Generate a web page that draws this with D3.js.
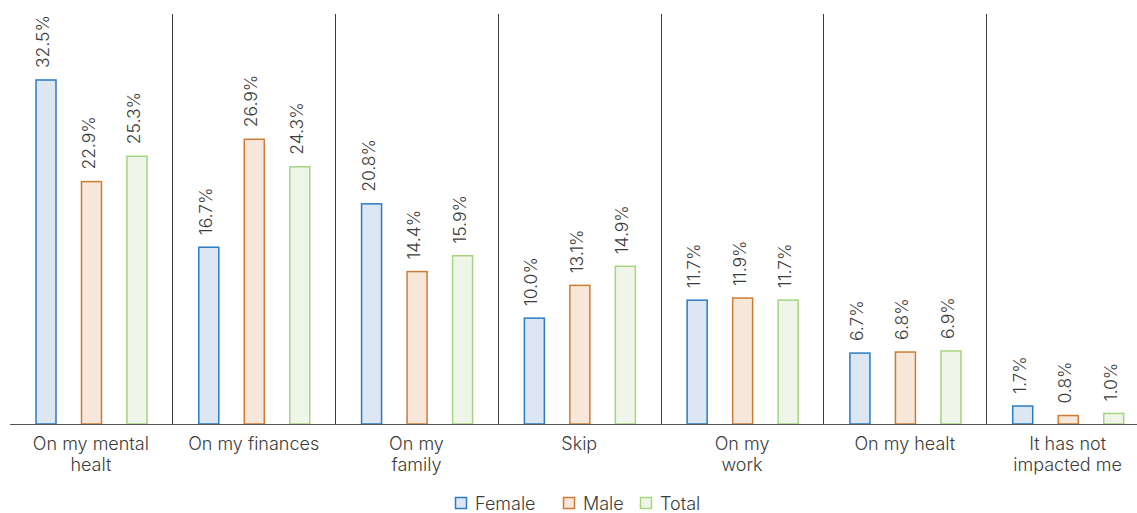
<!DOCTYPE html>
<html>
<head>
<meta charset="utf-8">
<script src="https://cdn.jsdelivr.net/npm/d3@7"></script>
<style>
  html, body { margin: 0; padding: 0; background: #fff; }
  svg { display: block; font-family: Inter, "Noto Sans", sans-serif; font-weight: 300; }
</style>
</head>
<body>
<svg id="chart" width="1137" height="513"></svg>
<script>
// Impact categories (wrapped label lines)
const categories = [
  ["On my mental", "healt"],
  ["On my finances"],
  ["On my", "family"],
  ["Skip"],
  ["On my", "work"],
  ["On my healt"],
  ["It has not", "impacted me"]
];
const seriesNames = ["Female", "Male", "Total"];
const female = [32.5, 16.7, 20.8, 10.0, 11.7, 6.7, 1.7];
const male   = [22.9, 26.9, 14.4, 13.1, 11.9, 6.8, 0.8];
const total  = [25.3, 24.3, 15.9, 14.9, 11.7, 6.9, 1.0];

const seriesValues = [female, male, total];
const fills   = ["#dde6f3", "#f6e7da", "#eff6e9"];
const strokes = ["#2a7cc4", "#cd7d33", "#a5d57f"];

const svg = d3.select("#chart");
const baseY = 424;
const topY = 80;

const keys = categories.map((c, i) => i);
const x0 = d3.scaleBand().domain(keys).range([9.5, 1149]).paddingInner(0).paddingOuter(0);
const x1 = d3.scaleBand().domain(seriesNames).range([26, 138]).paddingInner(0.5385).paddingOuter(0);
const y = d3.scaleLinear().domain([0, 32.5]).range([baseY, topY]);

// Group separators
svg.append("g").selectAll("line")
  .data(keys.slice(1))
  .join("line")
  .attr("x1", d => Math.round(x0(d)) + 0.5)
  .attr("x2", d => Math.round(x0(d)) + 0.5)
  .attr("y1", 14)
  .attr("y2", baseY)
  .attr("stroke", "#3a3a3a")
  .attr("stroke-width", 1);

// Bars and value labels
const groups = svg.append("g").selectAll("g")
  .data(keys)
  .join("g")
  .attr("transform", d => `translate(${x0(d)},0)`);

const cells = groups.selectAll("g")
  .data(i => seriesNames.map((s, k) => ({ s, k, v: seriesValues[k][i] })))
  .join("g");

cells.append("rect")
  .attr("x", d => x1(d.s) + 0.5)
  .attr("y", d => y(d.v))
  .attr("width", x1.bandwidth() - 1)
  .attr("height", d => baseY - y(d.v))
  .attr("fill", d => fills[d.k])
  .attr("stroke", d => strokes[d.k])
  .attr("stroke-width", 1.5);

cells.append("text")
  .attr("transform", d => `translate(${x1(d.s) + x1.bandwidth() / 2 + 3},${y(d.v) - 12}) rotate(-90)`)
  .attr("text-anchor", "start")
  .attr("font-size", 17.5)
  .attr("fill", "#3c3c3c")
  .text(d => d.v.toFixed(1) + "%");

// Baseline axis
const axis = svg.append("g")
  .attr("transform", `translate(0,${baseY})`)
  .call(d3.axisBottom(x0).tickSize(0).tickFormat(""));
axis.select(".domain").attr("stroke", "#555").attr("d", `M10,0.5H1137`);

// Category labels
const labels = svg.append("g").selectAll("text")
  .data(keys)
  .join("text")
  .attr("x", d => x0(d) + x0.bandwidth() / 2)
  .attr("y", 450)
  .attr("text-anchor", "middle")
  .attr("font-size", 18)
  .attr("fill", "#3c3c3c");
labels.selectAll("tspan")
  .data(d => categories[d])
  .join("tspan")
  .attr("x", function () { return d3.select(this.parentNode).attr("x"); })
  .attr("dy", (d, i) => i === 0 ? 0 : 21)
  .text(d => d);

// Legend
const legendX = [455, 563, 640];
const legend = svg.append("g").selectAll("g")
  .data(seriesNames)
  .join("g")
  .attr("transform", (d, i) => `translate(${legendX[i]},497)`);
legend.append("rect")
  .attr("x", 0.5).attr("y", 0.5)
  .attr("width", 11).attr("height", 11)
  .attr("fill", (d, i) => fills[i])
  .attr("stroke", (d, i) => strokes[i])
  .attr("stroke-width", 1.5);
legend.append("text")
  .attr("x", 20).attr("y", 12.5)
  .attr("font-size", 18)
  .attr("fill", "#3c3c3c")
  .text(d => d);
</script>
</body>
</html>
